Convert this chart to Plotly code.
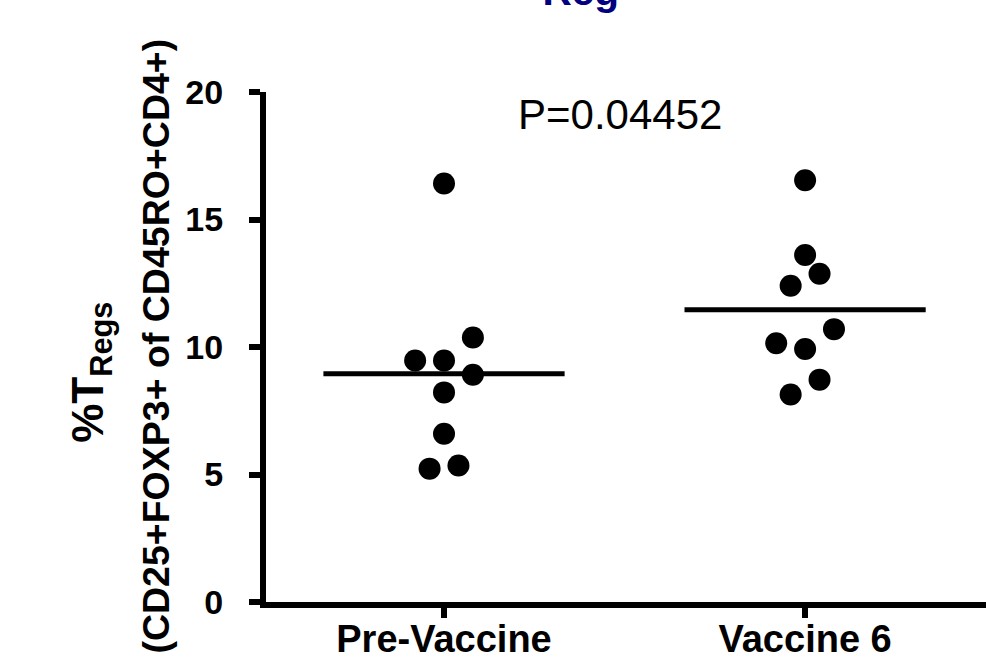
import plotly.graph_objects as go

# ---- data ----
categories = ["Pre-Vaccine", "Vaccine 6"]
pre_values = [16.41, 9.47, 9.47, 10.37, 8.91, 8.22, 6.60, 5.23, 5.35]
pre_steps = [0, -2, 0, 2, 2, 0, 0, -1, 1]          # horizontal scatter column of each dot
post_values = [16.54, 13.61, 12.87, 12.40, 10.70, 10.15, 9.92, 8.72, 8.14]
post_steps = [0, 0, 1, -1, 2, -2, 0, 1, -1]
group_means = [8.95, 11.46]
y_ticks = [0, 5, 10, 15, 20]
p_value_text = "P=0.04452"

STEP = 0.04        # width of one scatter column, in category units
HALF = 0.334       # half length of the mean bar
FONT = "Arial, Liberation Sans, sans-serif"

fig = go.Figure()

groups = [(pre_values, pre_steps), (post_values, post_steps)]
for i, (vals, steps) in enumerate(groups):
    fig.add_trace(go.Scatter(
        x=[i + s * STEP for s in steps], y=vals, mode="markers",
        marker=dict(size=22, color="black", line=dict(width=0)),
        showlegend=False, hoverinfo="y"))
    fig.add_trace(go.Scatter(
        x=[i - HALF, i + HALF], y=[group_means[i], group_means[i]], mode="lines",
        line=dict(color="black", width=5), showlegend=False, hoverinfo="skip"))

fig.update_layout(
    width=986, height=667,
    margin=dict(l=266, r=0, t=92, b=65, pad=0),
    plot_bgcolor="white", paper_bgcolor="white",
    font=dict(family=FONT, color="black"),
    xaxis=dict(range=[-0.493, 1.501], tickvals=[0, 1], ticktext=categories,
               showline=True, linewidth=6, linecolor="black", mirror=False,
               ticks="outside", ticklen=10, tickwidth=6, tickcolor="black",
               tickfont=dict(size=38, weight="bold", family=FONT),
               ticklabelstandoff=-12,
               showgrid=False, zeroline=False, fixedrange=True),
    yaxis=dict(range=[0, 20], tickvals=y_ticks,
               showline=True, linewidth=6, linecolor="black",
               ticks="outside", ticklen=11, tickwidth=6, tickcolor="black",
               tickfont=dict(size=34, weight="bold", family=FONT),
               ticklabelstandoff=19,
               showgrid=False, zeroline=False, fixedrange=True),
)

# P value
fig.add_annotation(x=0.4875, y=19.1, xref="x", yref="y", text=p_value_text,
                   showarrow=False, font=dict(size=42, family=FONT, color="black"),
                   xanchor="center", yanchor="middle")

# y axis title (two lines)
fig.add_annotation(x=-0.244, y=0.45, xref="paper", yref="paper",
                   text="%T<sub>Regs</sub>", textangle=-90, showarrow=False,
                   font=dict(size=44, weight="bold", family=FONT, color="black"),
                   xanchor="center", yanchor="middle")
fig.add_annotation(x=-0.153, y=0.5025, xref="paper", yref="paper",
                   text="(CD25+FOXP3+ of CD45RO+CD4+)", textangle=-90, showarrow=False,
                   font=dict(size=37.5, weight="bold", family=FONT, color="black"),
                   xanchor="center", yanchor="middle")

# chart title, mostly cut off at the top of the page
fig.add_annotation(x=0.413, y=1.149, xref="paper", yref="paper",
                   text="T<sub>Reg</sub>", showarrow=False,
                   font=dict(size=58, weight="bold", family=FONT, color="#000080"),
                   xanchor="center", yanchor="bottom")

fig.write_html("out.html", config={"displayModeBar": False},
               post_script="document.body.style.margin='0';")
